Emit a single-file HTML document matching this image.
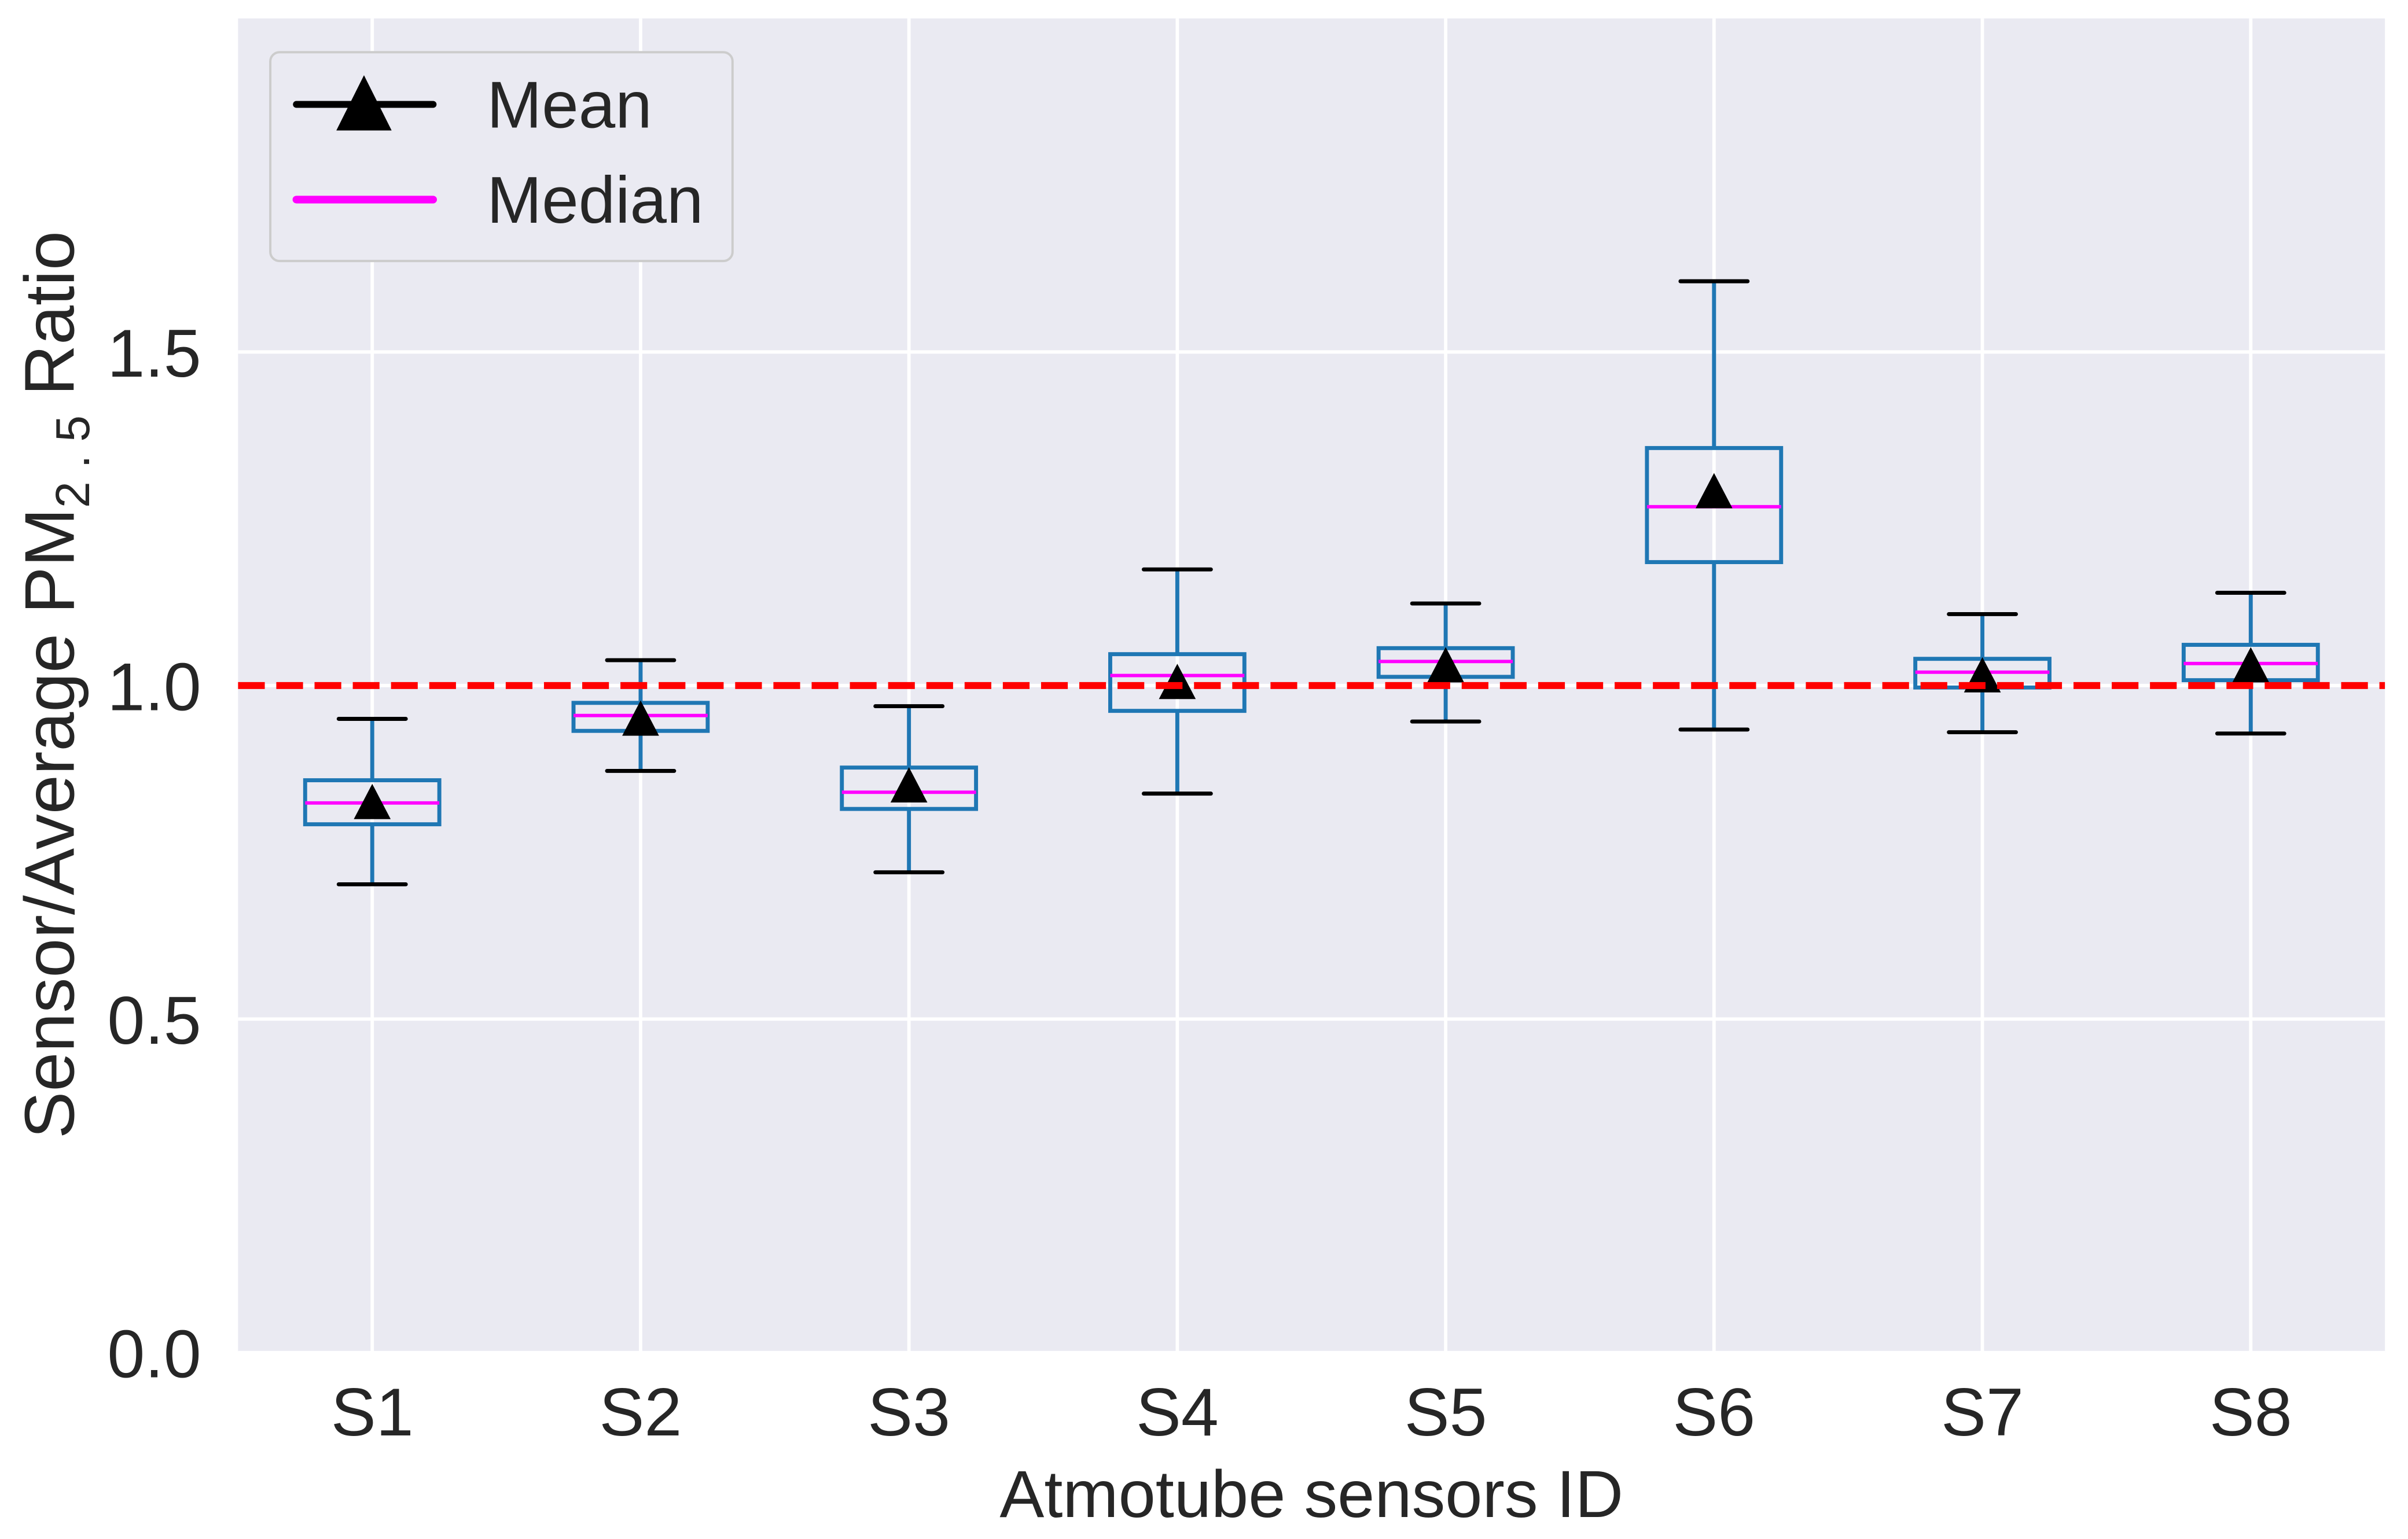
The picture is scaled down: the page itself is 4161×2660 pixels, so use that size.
<!DOCTYPE html>
<html><head><meta charset="utf-8"><style>
html,body{margin:0;padding:0;background:#fff;}
svg{display:block;}
text{font-family:"Liberation Sans",sans-serif;fill:#262626;}
</style></head><body>
<svg id="chart" width="4161" height="2660" viewBox="0 0 1568 1002.4" xmlns="http://www.w3.org/2000/svg">
<rect x="155" y="12" width="1398" height="869" fill="#eaeaf2"/>
<g id="grid"></g>
<g id="boxes"></g>
<g id="axes"></g>
<text x="854" y="988" font-size="43.5" text-anchor="middle">Atmotube sensors ID</text>
<text transform="translate(48,446) rotate(-90)" font-size="46" text-anchor="middle">Sensor/Average PM<tspan font-size="31" dy="10">2 . 5</tspan><tspan dy="-10"> Ratio</tspan></text>
<g>
<rect x="176" y="34" width="301" height="136" rx="6" fill="#eaeaf2" stroke="#cccccc" stroke-width="1.5"/>
<line x1="193" y1="68" x2="282" y2="68" stroke="#000" stroke-width="4.5" stroke-linecap="round"/>
<polygon points="237,49 255,85 219,85" fill="#000"/>
<text x="317" y="83" font-size="43">Mean</text>
<line x1="193" y1="130" x2="282" y2="130" stroke="#ff00ff" stroke-width="5" stroke-linecap="round"/>
<text x="317" y="145" font-size="43">Median</text>
</g>
</svg>
<script>
const categories=["S1","S2","S3","S4","S5","S6","S7","S8"];
const whiskerLow=[0.702,0.872,0.72,0.838,0.946,0.934,0.930,0.928];
const q1=[0.792,0.932,0.815,0.962,1.013,1.185,0.997,1.008];
const median=[0.824,0.955,0.84,1.015,1.036,1.268,1.02,1.033];
const q3=[0.858,0.974,0.877,1.047,1.056,1.356,1.040,1.061];
const whiskerHigh=[0.95,1.038,0.969,1.174,1.123,1.606,1.107,1.139];
const mean=[0.825,0.95,0.85,1.005,1.03,1.291,1.015,1.03];
const yTicks=[0,0.5,1.0,1.5];
const yTickLabels=["0.0","0.5","1.0","1.5"];
const referenceValue=1.0;

const NS="http://www.w3.org/2000/svg";
const L=155,R=1553,T=12,B=881;
const yMin=0,yMax=2;
function y(v){return B-(v-yMin)/(yMax-yMin)*(B-T);}
function x(i){return L+(i+0.5)*(R-L)/categories.length;}
const bw=(R-L)/categories.length;
function mk(parent,tag,attrs){const e=document.createElementNS(NS,tag);for(const k in attrs)e.setAttribute(k,attrs[k]);parent.appendChild(e);return e;}
const grid=document.getElementById('grid'),boxes=document.getElementById('boxes'),axes=document.getElementById('axes');
yTicks.forEach((t,i)=>{
  const g=mk(grid,'line',{x1:L,x2:R,y1:y(t),y2:y(t),stroke:'#fff','stroke-width':2.2});
  
  
  const tx=mk(axes,'text',{x:L-24,y:y(t)+16,'font-size':44,'text-anchor':'end'});
  tx.textContent=yTickLabels[i];
  
  
});
categories.forEach((c,i)=>{
  const g=mk(grid,'line',{x1:x(i),x2:x(i),y1:T,y2:B,stroke:'#fff','stroke-width':2.2});
  
  
  const tx=mk(axes,'text',{x:x(i),y:B+54,'font-size':44,'text-anchor':'middle'});
  tx.textContent=c;
  
  
});
categories.forEach((c,i)=>{
  const g=mk(boxes,'g',{});
  
  
  const cx=x(i),hw=bw*0.25,cw=bw*0.125;
  const blue='#1f77b4';
  const w1=mk(g,'line',{x1:cx,x2:cx,y1:y(q3[i]),y2:y(whiskerHigh[i]),stroke:blue,'stroke-width':2.6});
  
  
  const w2=mk(g,'line',{x1:cx,x2:cx,y1:y(q1[i]),y2:y(whiskerLow[i]),stroke:blue,'stroke-width':2.6});
  
  
  const c1=mk(g,'line',{x1:cx-cw,x2:cx+cw,y1:y(whiskerHigh[i]),y2:y(whiskerHigh[i]),stroke:'#000','stroke-width':2.6,'stroke-linecap':'round'});
  
  
  const c2=mk(g,'line',{x1:cx-cw,x2:cx+cw,y1:y(whiskerLow[i]),y2:y(whiskerLow[i]),stroke:'#000','stroke-width':2.6,'stroke-linecap':'round'});
  
  
  const r=mk(g,'rect',{x:cx-hw,y:y(q3[i]),width:hw*2,height:y(q1[i])-y(q3[i]),fill:'none',stroke:blue,'stroke-width':2.6});
  
  
  const m=mk(g,'line',{x1:cx-hw,x2:cx+hw,y1:y(median[i]),y2:y(median[i]),stroke:'#ff00ff','stroke-width':2.2});
  
  
  const my=y(mean[i]);
  const tri=mk(g,'polygon',{points:`${cx},${my-12} ${cx+12},${my+11} ${cx-12},${my+11}`,fill:'#000'});
  
  
});
const ref=mk(boxes,'line',{x1:L,x2:R,y1:y(referenceValue),y2:y(referenceValue),stroke:'#ff0000','stroke-width':4.5,'stroke-dasharray':'17.4 7.5'});


</script>
</body></html>
